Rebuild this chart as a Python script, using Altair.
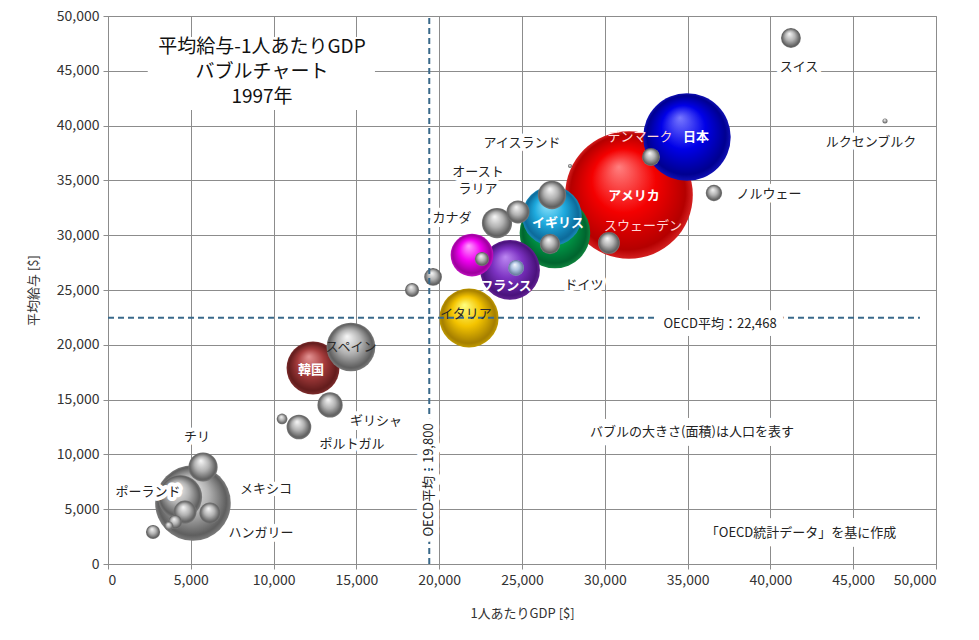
import altair as alt
import pandas as pd

# ---------------- data ----------------
countries = ["アメリカ", "日本", "ドイツ", "フランス", "イギリス", "イタリア", "韓国", "カナダ",
             "スペイン", "メキシコ", "ポーランド", "オーストラリア", "チリ", "オランダ", "ギリシャ",
             "ポルトガル", "ベルギー", "スウェーデン", "オーストリア", "スイス", "デンマーク",
             "ノルウェー", "フィンランド", "アイルランド", "ニュージーランド", "ルクセンブルク",
             "アイスランド", "イスラエル", "スロベニア", "チェコ", "ハンガリー", "スロバキア",
             "エストニア", "トルコ"]
gdp = [31460, 34960, 26990, 24280, 26810, 21800, 12380, 21980,
       14670, 5130, 4350, 23490, 5740, 26810, 13410,
       11530, 24760, 30250, 26690, 41240, 32790,
       36590, 24640, 19630, 22580, 46920,
       27900, 18360, 10510, 4650, 6160, 4050,
       3680, 2720]
wage = [33670, 38960, 30200, 26830, 31750, 22450, 17880, 28190,
        19800, 5570, 6110, 31110, 8850, 33670, 14510,
        12500, 32120, 29290, 29200, 47990, 37140,
        33850, 27010, 26190, 27830, 40420,
        36310, 25000, 13230, 4740, 4650, 3830,
        3470, 2920]
population = [268, 126, 82, 58.6, 58.3, 57.5, 46, 30,
              39, 94, 32, 15, 14, 13.2, 10.5,
              10, 8.7, 7.8, 6.8, 6.5, 5.3,
              4.4, 4.2, 5.2, 3.3, 0.42,
              0.27, 3.3, 1.9, 8.7, 7.4, 3.3,
              1.3, 3.3]

label_text = ["スイス", "ルクセンブルク", "日本", "デンマーク", "アイスランド", "オースト\nラリア",
              "カナダ", "イギリス", "アメリカ", "スウェーデン", "ノルウェー", "フランス", "ドイツ",
              "イタリア", "スペイン", "韓国", "ギリシャ", "ポルトガル", "チリ", "メキシコ",
              "ポーランド", "ハンガリー"]
label_gdp = [41727, 46075, 35507, 32126, 25000, 22343,
             20773, 27174, 31763, 32307, 39915, 24034, 28744,
             21618, 14674, 12258, 16184, 14734, 5374, 9541,
             2415, 9239]
label_wage = [45347, 38504, 38960, 38960, 38412, 35766,
              31569, 31113, 33577, 30839, 33759, 25365, 25456,
              22810, 19799, 17701, 13047, 10949, 11588, 6843,
              6569, 2828]

x_ticks = list(range(0, 50001, 5000))
y_ticks = list(range(0, 50001, 5000))

oecd_wage_mean = 22468
oecd_wage_label = "OECD平均：22,468"
oecd_gdp_line = 19400
oecd_gdp_label = "OECD平均：19,800"

title_text = "平均給与-1人あたりGDP\nバブルチャート\n1997年"
note_size = "バブルの大きさ(面積)は人口を表す"
note_source = "「OECD統計データ」を基に作成"

# ---------------- styling ----------------
FONT = "Noto Sans CJK JP"
RULE_COLOR = "#39698a"


def sphere(hi, mid, edge, rim):
    return {"gradient": "radial", "x1": 0.42, "y1": 0.28, "r1": 0.0,
            "x2": 0.5, "y2": 0.5, "r2": 0.5,
            "stops": [{"offset": 0.0, "color": hi},
                      {"offset": 0.5, "color": mid},
                      {"offset": 0.9, "color": edge},
                      {"offset": 1.0, "color": rim}]}


bubble_style = {
    "アメリカ": sphere("#ff8080", "#f40000", "#b40000", "#d42020"),
    "日本": sphere("#7878ff", "#0000e8", "#000090", "#1010b4"),
    "ドイツ": sphere("#58dc98", "#00a24c", "#00642e", "#10843e"),
    "フランス": sphere("#bc88f2", "#7c32c2", "#4a127c", "#622292"),
    "イギリス": sphere("#98e8ff", "#1eaade", "#0c6a9a", "#1a8aba"),
    "イタリア": sphere("#ffff80", "#f4c400", "#a47e00", "#c29c00"),
    "韓国": sphere("#e49494", "#a63c3c", "#621c1c", "#7c2c2c"),
    "カナダ": sphere("#ffa4ff", "#f200f2", "#9c009c", "#c212c2"),
    "フィンランド": sphere("#f4f8ff", "#adc2e0", "#6a7ea0", "#8498b8"),
}
gray_style = sphere("#f8f8f8", "#b2b2b2", "#5e5e5e", "#7c7c7c")

white_bold_labels = ["日本", "アメリカ", "イギリス", "フランス", "韓国"]
pink_labels = ["デンマーク", "スウェーデン"]
on_bubble_labels = ["イタリア", "スペイン"]

df = pd.DataFrame({"country": countries, "gdp": gdp, "wage": wage, "pop": population})
labels = pd.DataFrame({"text": label_text, "gdp": label_gdp, "wage": label_wage})

x_enc = alt.X("gdp:Q", scale=alt.Scale(domain=[0, 50000], nice=False),
              axis=alt.Axis(values=x_ticks, format=",d", title="1人あたりGDP [$]",
                            titlePadding=20))
y_enc = alt.Y("wage:Q", scale=alt.Scale(domain=[0, 50000], nice=False),
              axis=alt.Axis(values=y_ticks, format=",d", title="平均給与 [$]",
                            titlePadding=16))
size_enc = alt.Size("pop:Q", scale=alt.Scale(domain=[0, 268], range=[0, 16300]), legend=None)

layers = []

# title box
box = pd.DataFrame({"gdp": [2400], "gdp2": [16120], "wage": [41430], "wage2": [48090]})
layers.append(alt.Chart(box).mark_rect(fill="white").encode(
    x=x_enc, x2="gdp2:Q", y=y_enc, y2="wage2:Q"))

# coloured bubbles (largest first)
order_names = sorted(bubble_style.keys(), key=lambda n: -population[countries.index(n)])
for name in order_names:
    sub = df[df["country"] == name]
    layers.append(alt.Chart(sub).mark_circle(fill=bubble_style[name], opacity=1).encode(
        x=x_enc, y=y_enc, size=size_enc))

# gray bubbles
gray = df[~df["country"].isin(list(bubble_style.keys()))].sort_values("pop", ascending=False)
layers.append(alt.Chart(gray).mark_circle(fill=gray_style, opacity=1).encode(
    x=x_enc, y=y_enc, size=size_enc, order=alt.Order("pop:Q", sort="descending")))

# OECD average lines
hline = pd.DataFrame({"gdp": [0], "gdp2": [49030], "wage": [oecd_wage_mean]})
vline = pd.DataFrame({"gdp": [oecd_gdp_line], "wage": [0], "wage2": [50000]})
layers.append(alt.Chart(hline).mark_rule(color=RULE_COLOR, strokeWidth=2, strokeDash=[6, 4]).encode(
    x=x_enc, x2="gdp2:Q", y=y_enc))
layers.append(alt.Chart(vline).mark_rule(color=RULE_COLOR, strokeWidth=2, strokeDash=[6, 4]).encode(
    x=x_enc, y=y_enc, y2="wage2:Q"))

# black labels with white halo
plain = labels[~labels["text"].isin(white_bold_labels + pink_labels + on_bubble_labels)]
layers.append(alt.Chart(plain).mark_text(font=FONT, fontSize=13, lineBreak="\n", lineHeight=17,
                                         stroke="white", strokeWidth=8, strokeJoin="round",
                                         color="white").encode(x=x_enc, y=y_enc, text="text:N"))
layers.append(alt.Chart(plain).mark_text(font=FONT, fontSize=13, lineBreak="\n", lineHeight=17,
                                         color="#222").encode(x=x_enc, y=y_enc, text="text:N"))
layers.append(alt.Chart(labels[labels["text"].isin(on_bubble_labels)]).mark_text(
    font=FONT, fontSize=13, color="#2a2a2a").encode(x=x_enc, y=y_enc, text="text:N"))
layers.append(alt.Chart(labels[labels["text"].isin(pink_labels)]).mark_text(
    font=FONT, fontSize=13, color="#ffd6d6").encode(x=x_enc, y=y_enc, text="text:N"))
layers.append(alt.Chart(labels[labels["text"].isin(white_bold_labels)]).mark_text(
    font=FONT, fontSize=13, fontWeight="bold", color="white").encode(x=x_enc, y=y_enc, text="text:N"))

# annotations
notes = pd.DataFrame({"text": [note_size, note_source, oecd_wage_label],
                      "gdp": [35266, 41848, 36957], "wage": [12044, 2828, 21898]})
layers.append(alt.Chart(notes).mark_text(font=FONT, fontSize=13, stroke="white", strokeWidth=16,
                                         strokeJoin="round", color="white").encode(
    x=x_enc, y=y_enc, text="text:N"))
layers.append(alt.Chart(notes).mark_text(font=FONT, fontSize=13, color="#222").encode(
    x=x_enc, y=y_enc, text="text:N"))

vnote = pd.DataFrame({"text": [oecd_gdp_label], "gdp": [oecd_gdp_line], "wage": [7664]})
layers.append(alt.Chart(vnote).mark_text(font=FONT, fontSize=13, angle=270, stroke="white",
                                         strokeWidth=12, strokeJoin="round", color="white").encode(
    x=x_enc, y=y_enc, text="text:N"))
layers.append(alt.Chart(vnote).mark_text(font=FONT, fontSize=13, angle=270, color="#222").encode(
    x=x_enc, y=y_enc, text="text:N"))

ttl = pd.DataFrame({"text": [title_text], "gdp": [9300], "wage": [47170]})
layers.append(alt.Chart(ttl).mark_text(font=FONT, fontSize=19, lineBreak="\n", lineHeight=25,
                                       color="#111").encode(x=x_enc, y=y_enc, text="text:N"))

chart = alt.layer(*layers).properties(
    width=828, height=548,
    autosize=alt.AutoSizeParams(type="none"),
    padding={"left": 100, "top": 8, "right": 35, "bottom": 60},
    background="white",
).configure_view(stroke="#8c8c8c").configure_axis(
    gridColor="#8c8c8c", gridWidth=1, domainColor="#8c8c8c", tickColor="#8c8c8c", tickSize=5,
    labelFont=FONT, labelFontSize=14, labelColor="#333", labelPadding=4,
    titleFont=FONT, titleFontSize=13, titleFontWeight="normal", titleColor="#333",
)

chart.save("out.html", embed_options={"renderer": "svg", "actions": False})
